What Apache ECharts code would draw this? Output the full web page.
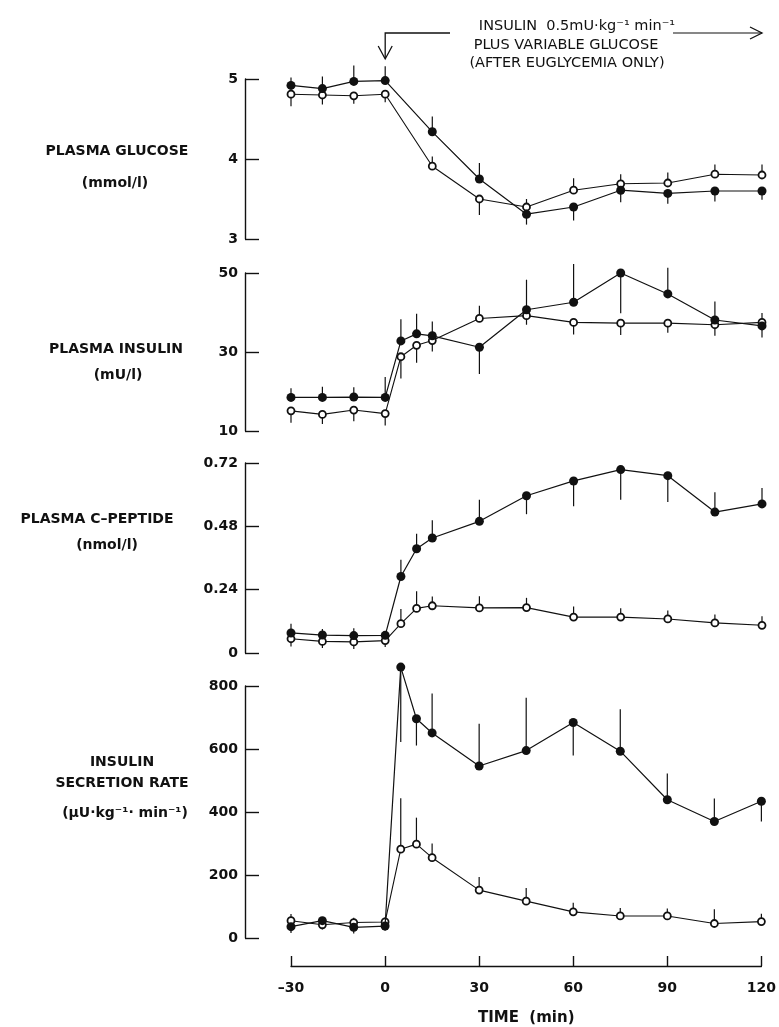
<!DOCTYPE html>
<html>
<head>
<meta charset="utf-8">
<script src="https://cdn.jsdelivr.net/npm/echarts@6/dist/echarts.min.js"></script>
<style>
html, body { margin: 0; padding: 0; background: #fff; }
#chart { width: 779px; height: 1027px; }
</style>
</head>
<body>
<div id="chart"></div>
<script>
// sampling times (min)
const times = [-30, -20, -10, 0, 5, 10, 15, 30, 45, 60, 75, 90, 105, 120]
const glucoseTimes = [-30, -20, -10, 0, 15, 30, 45, 60, 75, 90, 105, 120]
const timeTicks = [-30, 0, 30, 60, 90, 120]

// plasma glucose (mmol/l)
const glucoseSolid = [4.92, 4.88, 4.97, 4.98, 4.34, 3.75, 3.31, 3.40, 3.61, 3.57, 3.60, 3.60]
const glucoseSolidErr = [0.1, 0.15, 0.2, 0.18, 0.19, 0.2, -0.13, -0.17, -0.15, -0.13, -0.13, -0.11]
const glucoseOpen = [4.81, 4.80, 4.79, 4.81, 3.91, 3.50, 3.40, 3.61, 3.69, 3.70, 3.81, 3.80]
const glucoseOpenErr = [-0.15, -0.12, -0.1, -0.1, 0.12, -0.2, 0.1, 0.15, 0.12, 0.13, 0.12, 0.13]
const glucoseTicks = [3, 4, 5]

// plasma insulin (mU/l)
const insulinSolid = [18.5, 18.5, 18.6, 18.5, 32.8, 34.6, 34.1, 31.2, 40.7, 42.6, 50.0, 44.7, 38.1, 36.6]
const insulinSolidErr = [2.3, 2.7, 2.5, 5.2, 5.5, 5.1, 3.6, -6.8, 7.6, 9.7, -10.2, 6.6, 4.7, -2.9]
const insulinOpen = [15.1, 14.2, 15.3, 14.4, 28.8, 31.7, 32.9, 38.5, 39.2, 37.5, 37.3, 37.3, 36.9, 37.5]
const insulinOpenErr = [-3, -2.4, -2.8, -3, -5.5, -4.4, -2.8, 3.2, -2.3, -3.1, -3, -2.4, -2.8, 2.4]
const insulinTicks = [10, 30, 50]

// plasma C-peptide (nmol/l)
const cpepSolid = [0.076, 0.068, 0.066, 0.067, 0.29, 0.395, 0.436, 0.499, 0.596, 0.652, 0.695, 0.672, 0.534, 0.565]
const cpepSolidErr = [0.035, 0.023, 0.028, 0.015, 0.063, 0.057, 0.067, 0.082, -0.07, -0.096, -0.114, -0.1, 0.075, 0.06]
const cpepOpen = [0.054, 0.044, 0.042, 0.047, 0.111, 0.169, 0.179, 0.171, 0.172, 0.136, 0.136, 0.129, 0.114, 0.105]
const cpepOpenErr = [-0.029, -0.025, -0.027, -0.024, 0.056, 0.065, 0.035, 0.044, 0.037, 0.04, 0.034, 0.032, 0.032, 0.034]
const cpepTicks = [0, 0.24, 0.48, 0.72]

// insulin secretion rate (uU/kg/min)
const isrSolid = [36, 55, 34, 38, 860, 696, 651, 546, 595, 684, 593, 439, 370, 434]
const isrSolidErr = [-20, -18, -20, -15, -238, -85, 125, 134, 168, -105, 133, 83, 73, -64]
const isrOpen = [55, 42, 49, 51, 282, 298, 255, 152, 117, 83, 70, 70, 46, 52]
const isrOpenErr = [21, -15, 15, 15, 162, 84, 45, 42, 42, 29, 25, 24, 45, 25]
const isrTicks = [0, 200, 400, 600, 800]

const ink = '#111'
const font = 'DejaVu Sans'

const panels = [
  { t: glucoseTimes, solid: glucoseSolid, solidErr: glucoseSolidErr, open: glucoseOpen, openErr: glucoseOpenErr, ticks: glucoseTicks, top: 79, height: 160 },
  { t: times, solid: insulinSolid, solidErr: insulinSolidErr, open: insulinOpen, openErr: insulinOpenErr, ticks: insulinTicks, top: 273, height: 158 },
  { t: times, solid: cpepSolid, solidErr: cpepSolidErr, open: cpepOpen, openErr: cpepOpenErr, ticks: cpepTicks, top: 463, height: 190 },
  { t: times, solid: isrSolid, solidErr: isrSolidErr, open: isrOpen, openErr: isrOpenErr, ticks: isrTicks, top: 686, height: 255 },
]

function errorBars(t, vals, errs, i) {
  return {
    type: 'custom',
    xAxisIndex: i,
    yAxisIndex: i,
    silent: true,
    data: t.map((x, k) => [x, vals[k], errs[k]]),
    encode: { x: 0, y: 1 },
    renderItem(params, api) {
      const p0 = api.coord([api.value(0), api.value(1)])
      const p1 = api.coord([api.value(0), api.value(1) + api.value(2)])
      return {
        type: 'line',
        shape: { x1: p0[0], y1: p0[1], x2: p1[0], y2: p1[1] },
        style: { stroke: ink, lineWidth: 1.2 },
      }
    },
  }
}

const grids = []
const xAxes = []
const yAxes = []
const series = []

panels.forEach((p, i) => {
  grids.push({ left: 291, right: 17, top: p.top, height: p.height })
  const last = i === panels.length - 1
  xAxes.push({
    type: 'value',
    gridIndex: i,
    min: -30,
    max: 120,
    show: last,
    offset: 28,
    splitLine: { show: false },
    axisLine: { onZero: false, lineStyle: { color: ink, width: 1.4 } },
    axisTick: { inside: true, length: 10, customValues: timeTicks, lineStyle: { color: ink, width: 1.4 } },
    axisLabel: {
      customValues: timeTicks,
      margin: 15,
      color: ink,
      fontFamily: font,
      fontSize: 14,
      fontWeight: 'bold',
      formatter: (v) => (v < 0 ? '\u2013' + -v : String(v)),
    },
    name: last ? 'TIME  (min)' : '',
    nameLocation: 'middle',
    nameGap: 45,
    nameTextStyle: { color: ink, fontFamily: font, fontSize: 15, fontWeight: 'bold' },
  })
  yAxes.push({
    type: 'value',
    gridIndex: i,
    min: p.ticks[0],
    max: p.ticks[p.ticks.length - 1],
    offset: 46,
    splitLine: { show: false },
    axisLine: { show: true, onZero: false, lineStyle: { color: ink, width: 1.4 } },
    axisTick: { show: true, inside: true, length: 14, customValues: p.ticks, lineStyle: { color: ink, width: 1.4 } },
    axisLabel: { customValues: p.ticks, margin: 7, color: ink, fontFamily: font, fontSize: 14, fontWeight: 'bold' },
  })
  series.push(errorBars(p.t, p.open, p.openErr, i))
  series.push(errorBars(p.t, p.solid, p.solidErr, i))
  series.push({
    type: 'line',
    xAxisIndex: i,
    yAxisIndex: i,
    clip: false,
    data: p.t.map((x, k) => [x, p.open[k]]),
    symbol: 'circle',
    symbolSize: 7,
    lineStyle: { color: ink, width: 1.1 },
    itemStyle: { color: '#fff', borderColor: ink, borderWidth: 1.8 },
    z: 3,
  })
  series.push({
    type: 'line',
    xAxisIndex: i,
    yAxisIndex: i,
    clip: false,
    data: p.t.map((x, k) => [x, p.solid[k]]),
    symbol: 'circle',
    symbolSize: 9,
    lineStyle: { color: ink, width: 1.2 },
    itemStyle: { color: ink, borderColor: ink, borderWidth: 0 },
    z: 4,
  })
})

const labelStyle = { fill: ink, font: 'bold 14px "DejaVu Sans"', textAlign: 'center', textVerticalAlign: 'middle' }

function sideLabel(x, y, text) {
  return { type: 'text', x, y, style: Object.assign({ text }, labelStyle) }
}

const chart = echarts.init(document.getElementById('chart'))
chart.setOption({
  animation: false,
  backgroundColor: '#fff',
  grid: grids,
  xAxis: xAxes,
  yAxis: yAxes,
  series,
})

// annotation of the clamp start, anchored on the time axis
const x0 = chart.convertToPixel({ xAxisIndex: 0 }, 0)
const x120 = chart.convertToPixel({ xAxisIndex: 0 }, 120)
const topStyle = { fill: ink, font: '14.5px "DejaVu Sans"', textAlign: 'center', textVerticalAlign: 'middle' }

chart.setOption({
  graphic: [
    sideLabel(117, 151, 'PLASMA GLUCOSE'),
    sideLabel(115, 183, '(mmol/l)'),
    sideLabel(116, 349, 'PLASMA INSULIN'),
    sideLabel(118, 375, '(mU/l)'),
    sideLabel(97, 519, 'PLASMA C\u2013PEPTIDE'),
    sideLabel(107, 545, '(nmol/l)'),
    sideLabel(122, 762, 'INSULIN'),
    sideLabel(122, 783, 'SECRETION RATE'),
    sideLabel(125, 813, '(\u03bcU\u00b7kg\u207b\u00b9\u00b7 min\u207b\u00b9)'),
    { type: 'text', x: 577, y: 26, style: Object.assign({ text: 'INSULIN  0.5mU\u00b7kg\u207b\u00b9 min\u207b\u00b9' }, topStyle) },
    { type: 'text', x: 566, y: 45, style: Object.assign({ text: 'PLUS VARIABLE GLUCOSE' }, topStyle) },
    { type: 'text', x: 567, y: 63, style: Object.assign({ text: '(AFTER EUGLYCEMIA ONLY)' }, topStyle) },
    { type: 'polyline', shape: { points: [[x0, 58], [x0, 33], [450, 33]] }, style: { stroke: ink, lineWidth: 1.3, fill: null } },
    { type: 'polyline', shape: { points: [[x0 - 7, 46], [x0, 59], [x0 + 7, 46]] }, style: { stroke: ink, lineWidth: 1.3, fill: null } },
    { type: 'line', shape: { x1: 673, y1: 33, x2: x120, y2: 33 }, style: { stroke: ink, lineWidth: 1.1 } },
    { type: 'polyline', shape: { points: [[x120 - 12, 27], [x120, 33], [x120 - 12, 39]] }, style: { stroke: ink, lineWidth: 1.3, fill: null } },
  ],
})
</script>
</body>
</html>
